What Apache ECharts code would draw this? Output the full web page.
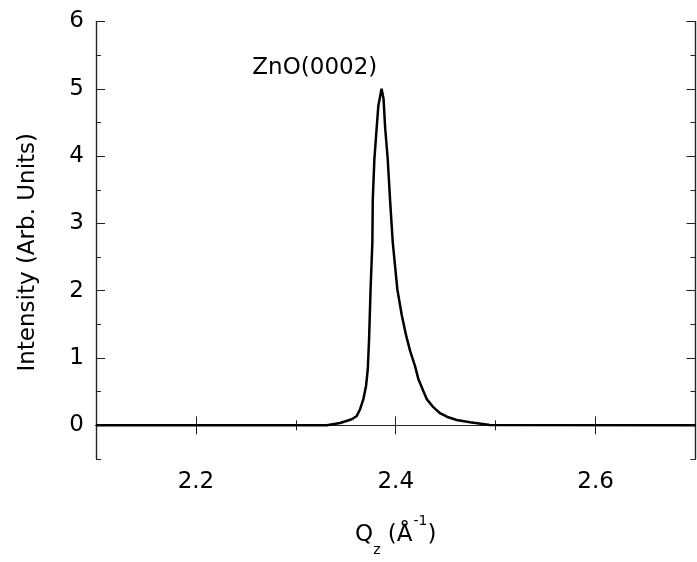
<!DOCTYPE html>
<html>
<head>
<meta charset="utf-8">
<script src="https://cdn.jsdelivr.net/npm/echarts@6/dist/echarts.min.js"></script>
<style>
  html, body { margin: 0; padding: 0; background: #fff; }
  #chart { width: 697px; height: 562px; }
</style>
</head>
<body>
<div id="chart"></div>
<script>
// measured curve, Qz (1/Å) vs intensity
var qz = [2.10, 2.331, 2.3443, 2.356, 2.361, 2.3643, 2.3676, 2.3703, 2.372, 2.3733, 2.3748, 2.3766, 2.377,
          2.3786, 2.381, 2.3826, 2.3858, 2.3878, 2.3893, 2.392, 2.3943, 2.397, 2.4016, 2.406, 2.4103, 2.4143,
          2.4193, 2.4226, 2.4276, 2.431, 2.4376, 2.4443, 2.4526, 2.461, 2.4743, 2.4943, 2.70];
var intensity = [0, 0, 0.034, 0.09, 0.14, 0.24, 0.39, 0.59, 0.83, 1.28, 2.02, 2.72, 3.35,
                 3.95, 4.44, 4.75, 5.0, 4.85, 4.44, 3.95, 3.35, 2.72, 2.02, 1.64, 1.34, 1.11,
                 0.88, 0.69, 0.51, 0.39, 0.27, 0.18, 0.12, 0.08, 0.045, 0.005, 0];
var xMajor = [2.2, 2.4, 2.6];
var xMinor = [2.3, 2.5];
var yMajor = [0, 1, 2, 3, 4, 5, 6];
var yMinor = [-0.5, 0.5, 1.5, 2.5, 3.5, 4.5, 5.5];
var peakLabel = 'ZnO(0002)';
var peakLabelAt = [2.319, 5.31];

var FONT = 'DejaVu Sans';
var FS = 23;
var axisColor = '#222';

var points = qz.map(function (q, i) { return [q, intensity[i]]; });

function xAxisDef(pos, ticks, len, showLabel, extra) {
  var a = {
    type: 'value', position: pos, min: 2.1, max: 2.7,
    axisLine: { show: true, lineStyle: { color: axisColor, width: 1.2 } },
    axisTick: { show: true, inside: true, length: len, customValues: ticks, lineStyle: { color: axisColor, width: 1 } },
    axisLabel: { show: showLabel, customValues: ticks, margin: 12, color: '#000', fontFamily: FONT, fontSize: FS,
                 formatter: function (v) { return v.toFixed(1); } },
    splitLine: { show: false }
  };
  return Object.assign(a, extra || {});
}
function yAxisDef(pos, ticks, len, showLabel, extra) {
  var a = {
    type: 'value', position: pos, min: -0.5, max: 6,
    axisLine: { show: true, onZero: false, lineStyle: { color: axisColor, width: 1.2 } },
    axisTick: { show: true, inside: true, length: len, customValues: ticks, lineStyle: { color: axisColor, width: 1 } },
    axisLabel: { show: showLabel, customValues: ticks, margin: 12, color: '#000', fontFamily: FONT, fontSize: FS },
    splitLine: { show: false }
  };
  return Object.assign(a, extra || {});
}

var chart = echarts.init(document.getElementById('chart'), null, { renderer: 'canvas' });
chart.setOption({
  animation: false,
  backgroundColor: '#fff',
  grid: { left: 96, right: 1.5, top: 21.5, bottom: 102 },
  xAxis: [
    xAxisDef('bottom', xMajor, 9, true, {
      name: '{n|Q}{sub|z}{n| (Å}{sup|-1}{n|)}',
      nameLocation: 'middle', nameGap: 60,
      nameTextStyle: {
        fontFamily: FONT, fontSize: FS, color: '#000',
        rich: {
          n: { fontFamily: FONT, fontSize: FS, color: '#000', lineHeight: 32 },
          sub: { fontFamily: FONT, fontSize: 14, color: '#000', lineHeight: 32, verticalAlign: 'bottom', padding: [0, 0, -6, 0] },
          sup: { fontFamily: FONT, fontSize: 14, color: '#000', lineHeight: 32, verticalAlign: 'top', padding: [-5, 0, 0, 1] }
        }
      }
    }),
    xAxisDef('bottom', xMinor, 5, false),
    xAxisDef('top', xMajor, 9, false),
    xAxisDef('top', xMinor, 5, false)
  ],
  yAxis: [
    yAxisDef('left', yMajor, 9, true, {
      name: 'Intensity (Arb. Units)', nameLocation: 'middle', nameGap: 56,
      nameTextStyle: { fontFamily: FONT, fontSize: FS, color: '#000', padding: [0, 24, 0, 0] }
    }),
    yAxisDef('left', yMinor, 5, false),
    yAxisDef('right', yMajor, 9, false),
    yAxisDef('right', yMinor, 5, false)
  ],
  series: [{
    type: 'line',
    data: points,
    showSymbol: false,
    symbol: 'none',
    lineStyle: { color: '#000', width: 2.5 },
    markPoint: {
      symbol: 'circle', symbolSize: 0,
      data: [{ coord: peakLabelAt, value: peakLabel }],
      label: { show: true, position: 'inside', formatter: '{c}', color: '#000', fontFamily: FONT, fontSize: FS }
    }
  }]
});
</script>
</body>
</html>
